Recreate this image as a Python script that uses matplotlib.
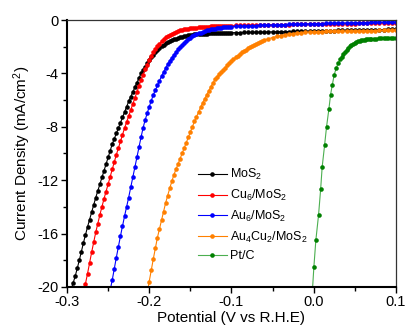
import numpy as np
import matplotlib
matplotlib.use("Agg")
import matplotlib.pyplot as plt
from matplotlib.ticker import MultipleLocator

plt.rcParams['font.family'] = ['Liberation Sans', 'DejaVu Sans']
plt.rcParams['mathtext.fontset'] = 'custom'
plt.rcParams['mathtext.rm'] = 'Liberation Sans'
plt.rcParams['mathtext.it'] = 'Liberation Sans:italic'
plt.rcParams['axes.unicode_minus'] = False

# (potential V vs RHE, current density mA/cm2)
mos2 = [(-0.295, -20.2), (-0.2925, -19.7), (-0.290, -19.2), (-0.2875, -18.6), (-0.285, -18.0),
        (-0.2825, -17.35), (-0.280, -16.7), (-0.2775, -16.1), (-0.275, -15.5), (-0.2725, -14.95),
        (-0.270, -14.4), (-0.2675, -13.85), (-0.265, -13.3), (-0.2625, -12.8), (-0.260, -12.3),
        (-0.2575, -11.8), (-0.255, -11.3), (-0.2525, -10.8), (-0.250, -10.3), (-0.2475, -9.8),
        (-0.245, -9.3), (-0.2425, -8.9), (-0.240, -8.5), (-0.2375, -8.1), (-0.235, -7.7),
        (-0.2325, -7.3), (-0.230, -6.9), (-0.2275, -6.5), (-0.225, -6.1), (-0.2225, -5.75),
        (-0.220, -5.4), (-0.2175, -5.05), (-0.215, -4.7), (-0.2125, -4.35), (-0.210, -4.0),
        (-0.2075, -3.75), (-0.205, -3.5), (-0.2025, -3.25), (-0.200, -3.0), (-0.1975, -2.8),
        (-0.195, -2.6), (-0.1925, -2.42), (-0.190, -2.25), (-0.1875, -2.1), (-0.185, -1.95),
        (-0.1825, -1.85), (-0.180, -1.75), (-0.1775, -1.66), (-0.175, -1.58), (-0.1725, -1.51),
        (-0.170, -1.45), (-0.1675, -1.4), (-0.165, -1.35), (-0.1625, -1.3), (-0.160, -1.26),
        (-0.1575, -1.22), (-0.155, -1.18), (-0.1525, -1.15), (-0.150, -1.12), (-0.1475, -1.1),
        (-0.145, -1.08), (-0.1425, -1.06), (-0.140, -1.05), (-0.1375, -1.04), (-0.135, -1.03),
        (-0.1325, -1.02), (-0.130, -1.01), (-0.1275, -1.0), (-0.125, -1.0), (-0.1225, -0.99),
        (-0.120, -0.99), (-0.1175, -0.98), (-0.115, -0.98), (-0.1125, -0.97), (-0.110, -0.97),
        (-0.1075, -0.96), (-0.105, -0.96), (-0.1025, -0.95), (-0.100, -0.95),
        (-0.095, -0.94), (-0.090, -0.94), (-0.085, -0.93), (-0.080, -0.93), (-0.075, -0.92),
        (-0.070, -0.91), (-0.065, -0.91), (-0.060, -0.90), (-0.055, -0.89), (-0.050, -0.89),
        (-0.045, -0.88), (-0.040, -0.87), (-0.035, -0.87), (-0.030, -0.86), (-0.025, -0.85),
        (-0.020, -0.85), (-0.015, -0.84), (-0.010, -0.83), (-0.005, -0.83), (0.000, -0.82),
        (0.005, -0.81), (0.010, -0.81), (0.015, -0.80), (0.020, -0.79), (0.025, -0.79),
        (0.030, -0.78), (0.035, -0.77), (0.040, -0.77), (0.045, -0.76), (0.050, -0.75),
        (0.055, -0.75), (0.060, -0.74), (0.065, -0.73), (0.070, -0.73), (0.075, -0.72),
        (0.080, -0.71), (0.085, -0.71), (0.090, -0.70), (0.095, -0.69), (0.100, -0.69)]

cu6 = [(-0.280, -20.5), (-0.2775, -19.75), (-0.275, -19.0), (-0.2725, -18.2), (-0.270, -17.4),
       (-0.2675, -16.65), (-0.265, -15.9), (-0.2625, -15.25), (-0.260, -14.6), (-0.2575, -14.0),
       (-0.255, -13.4), (-0.2525, -12.85), (-0.250, -12.3), (-0.2475, -11.75), (-0.245, -11.2),
       (-0.2425, -10.65), (-0.240, -10.1), (-0.2375, -9.6), (-0.235, -9.1), (-0.2325, -8.6),
       (-0.230, -8.1), (-0.2275, -7.65), (-0.225, -7.2), (-0.2225, -6.75), (-0.220, -6.3),
       (-0.2175, -5.85), (-0.215, -5.4), (-0.2125, -4.95), (-0.210, -4.5), (-0.2075, -4.1),
       (-0.205, -3.7), (-0.2025, -3.35), (-0.200, -3.0), (-0.1975, -2.7), (-0.195, -2.4),
       (-0.1925, -2.15), (-0.190, -1.95), (-0.1875, -1.77), (-0.185, -1.6), (-0.1825, -1.45),
       (-0.180, -1.3), (-0.1775, -1.2), (-0.175, -1.1), (-0.1725, -1.02), (-0.170, -0.95),
       (-0.1675, -0.89), (-0.165, -0.83), (-0.1625, -0.78), (-0.160, -0.74), (-0.1575, -0.7),
       (-0.155, -0.67), (-0.1525, -0.64), (-0.150, -0.62), (-0.1475, -0.6), (-0.145, -0.58),
       (-0.1425, -0.56), (-0.140, -0.55), (-0.1375, -0.53), (-0.135, -0.52), (-0.1325, -0.51),
       (-0.130, -0.50), (-0.1275, -0.49), (-0.125, -0.48), (-0.1225, -0.47), (-0.120, -0.46),
       (-0.1175, -0.45), (-0.115, -0.44), (-0.1125, -0.44), (-0.110, -0.43), (-0.1075, -0.43),
       (-0.105, -0.42), (-0.1025, -0.42), (-0.100, -0.41),
       (-0.095, -0.40), (-0.090, -0.40), (-0.085, -0.39), (-0.080, -0.39), (-0.075, -0.38),
       (-0.070, -0.38), (-0.065, -0.37), (-0.060, -0.37), (-0.055, -0.36), (-0.050, -0.36),
       (-0.045, -0.35), (-0.040, -0.35), (-0.035, -0.34), (-0.030, -0.34), (-0.025, -0.33),
       (-0.020, -0.33), (-0.015, -0.32), (-0.010, -0.32), (-0.005, -0.31), (0.000, -0.31),
       (0.005, -0.30), (0.010, -0.30), (0.015, -0.29), (0.020, -0.29), (0.025, -0.28),
       (0.030, -0.28), (0.035, -0.27), (0.040, -0.27), (0.045, -0.26), (0.050, -0.26),
       (0.055, -0.25), (0.060, -0.25), (0.065, -0.24), (0.070, -0.24), (0.075, -0.23),
       (0.080, -0.23), (0.085, -0.23), (0.090, -0.22), (0.095, -0.22), (0.100, -0.22)]

au6 = [(-0.250, -21.0), (-0.2475, -20.25), (-0.245, -19.5), (-0.2425, -18.65), (-0.240, -17.8),
       (-0.2375, -17.0), (-0.235, -16.2), (-0.2325, -15.45), (-0.230, -14.7), (-0.2275, -14.0),
       (-0.225, -13.3), (-0.2225, -12.55), (-0.220, -11.8), (-0.2175, -11.05), (-0.215, -10.3),
       (-0.2125, -9.55), (-0.210, -8.8), (-0.2075, -8.1), (-0.205, -7.5), (-0.2025, -7.0),
       (-0.200, -6.5), (-0.1975, -6.05), (-0.195, -5.6), (-0.1925, -5.25), (-0.190, -4.9),
       (-0.1875, -4.55), (-0.185, -4.2), (-0.1825, -3.9), (-0.180, -3.6), (-0.1775, -3.32),
       (-0.175, -3.05), (-0.1725, -2.82), (-0.170, -2.6), (-0.1675, -2.4), (-0.165, -2.2),
       (-0.1625, -2.02), (-0.160, -1.85), (-0.1575, -1.7), (-0.155, -1.55), (-0.1525, -1.43),
       (-0.150, -1.32), (-0.1475, -1.23), (-0.145, -1.15), (-0.1425, -1.07), (-0.140, -1.0),
       (-0.1375, -0.94), (-0.135, -0.88), (-0.1325, -0.83), (-0.130, -0.78), (-0.1275, -0.74),
       (-0.125, -0.70), (-0.1225, -0.67), (-0.120, -0.64), (-0.1175, -0.61), (-0.115, -0.59),
       (-0.1125, -0.57), (-0.110, -0.55), (-0.1075, -0.53), (-0.105, -0.52), (-0.1025, -0.5),
       (-0.100, -0.49),
       (-0.095, -0.47), (-0.090, -0.46), (-0.085, -0.44), (-0.080, -0.43), (-0.075, -0.42),
       (-0.070, -0.41), (-0.065, -0.40), (-0.060, -0.39), (-0.055, -0.38), (-0.050, -0.37),
       (-0.045, -0.36), (-0.040, -0.35), (-0.035, -0.34), (-0.030, -0.33), (-0.025, -0.32),
       (-0.020, -0.31), (-0.015, -0.30), (-0.010, -0.29), (-0.005, -0.28), (0.000, -0.27),
       (0.005, -0.27), (0.010, -0.26), (0.015, -0.25), (0.020, -0.24), (0.025, -0.24),
       (0.030, -0.23), (0.035, -0.22), (0.040, -0.22), (0.045, -0.21), (0.050, -0.20),
       (0.055, -0.20), (0.060, -0.19), (0.065, -0.19), (0.070, -0.18), (0.075, -0.18),
       (0.080, -0.17), (0.085, -0.17), (0.090, -0.16), (0.095, -0.16), (0.100, -0.15)]

au4cu2 = [(-0.205, -21.3), (-0.2025, -20.45), (-0.200, -19.6), (-0.1975, -18.75), (-0.195, -17.9),
          (-0.1925, -17.1), (-0.190, -16.3), (-0.1875, -15.65), (-0.185, -15.0), (-0.1825, -14.35),
          (-0.180, -13.7), (-0.1775, -13.15), (-0.175, -12.6), (-0.1725, -12.1), (-0.170, -11.6),
          (-0.1675, -11.2), (-0.165, -10.8), (-0.1625, -10.4), (-0.160, -10.0), (-0.1575, -9.6),
          (-0.155, -9.2), (-0.1525, -8.8), (-0.150, -8.4), (-0.1475, -8.0), (-0.145, -7.6),
          (-0.1425, -7.25), (-0.140, -6.9), (-0.1375, -6.55), (-0.135, -6.2), (-0.1325, -5.9),
          (-0.130, -5.6), (-0.1275, -5.3), (-0.125, -5.0), (-0.1225, -4.72), (-0.120, -4.45),
          (-0.1175, -4.25), (-0.115, -4.05), (-0.1125, -3.9), (-0.110, -3.75), (-0.1075, -3.57),
          (-0.105, -3.4), (-0.1025, -3.25), (-0.100, -3.1),
          (-0.0975, -2.95), (-0.095, -2.8), (-0.0925, -2.67), (-0.090, -2.55), (-0.0875, -2.43),
          (-0.085, -2.32), (-0.0825, -2.22), (-0.080, -2.12), (-0.0775, -2.03), (-0.075, -1.95),
          (-0.0725, -1.86), (-0.070, -1.78), (-0.0675, -1.7), (-0.065, -1.62), (-0.0625, -1.56),
          (-0.060, -1.50), (-0.055, -1.40), (-0.050, -1.31), (-0.045, -1.23), (-0.040, -1.16),
          (-0.035, -1.10), (-0.030, -1.05), (-0.025, -1.01), (-0.020, -0.97), (-0.015, -0.94),
          (-0.010, -0.92), (-0.005, -0.90), (0.000, -0.88), (0.005, -0.87), (0.010, -0.86),
          (0.015, -0.85), (0.020, -0.85), (0.025, -0.84), (0.030, -0.83), (0.035, -0.83),
          (0.040, -0.82), (0.045, -0.82), (0.050, -0.81), (0.055, -0.81), (0.060, -0.80),
          (0.065, -0.80), (0.070, -0.79), (0.075, -0.79), (0.080, -0.78), (0.085, -0.78),
          (0.090, -0.77), (0.095, -0.77), (0.100, -0.76)]

ptc = [(-0.0018, -20.6), (0.0003, -18.5), (0.0027, -16.5), (0.006, -14.6), (0.0085, -12.7),
       (0.0104, -11.0), (0.0133, -9.4), (0.0157, -8.0), (0.0185, -6.7), (0.0206, -5.6),
       (0.0226, -4.9), (0.025, -4.1), (0.0275, -3.6), (0.030, -3.2), (0.0325, -2.95),
       (0.034, -2.75), (0.036, -2.55), (0.038, -2.38), (0.040, -2.22), (0.042, -2.1),
       (0.044, -1.98), (0.046, -1.88), (0.048, -1.79), (0.050, -1.72), (0.052, -1.66),
       (0.054, -1.6), (0.056, -1.55), (0.058, -1.51), (0.060, -1.48), (0.062, -1.46),
       (0.064, -1.44), (0.066, -1.43), (0.068, -1.42), (0.070, -1.41), (0.073, -1.40),
       (0.076, -1.39), (0.079, -1.38), (0.082, -1.38), (0.085, -1.37), (0.088, -1.37),
       (0.091, -1.36), (0.094, -1.36), (0.097, -1.35), (0.100, -1.35)]

labels = ['MoS$_2$', 'Cu$_6$/MoS$_2$', 'Au$_6$/MoS$_2$', 'Au$_4$Cu$_2$/MoS$_2$', 'Pt/C']
colors = ['#000000', '#ff0000', '#0000ff', '#ff8000', '#008000']
line_colors = ['#000000', '#ff0000', '#0000ff', '#ff8000', '#4caf50']

fig = plt.figure(figsize=(4.06, 3.29), dpi=100)
ax = fig.add_axes([0.165, 0.128, 0.81, 0.811])

for data, lab, c, lc in zip([mos2, cu6, au6, au4cu2, ptc], labels, colors, line_colors):
    v, j = zip(*data)
    ax.plot(v, j, '-o', color=lc, mfc=c, mec=c, lw=0.8, ms=3.3, mew=0, label=lab)

ax.set_xlim(-0.3, 0.1)
ax.set_ylim(-20, 0)
ax.set_xticks([-0.3, -0.2, -0.1, 0.0, 0.1])
ax.set_xticklabels(['-0.3', '-0.2', '-0.1', '0.0', '0.1'])
ax.set_yticks([0, -4, -8, -12, -16, -20])
ax.set_yticklabels(['0', '-4', '-8', '-12', '-16', '-20'])
ax.xaxis.set_minor_locator(MultipleLocator(0.05))
ax.yaxis.set_minor_locator(MultipleLocator(2))
ax.tick_params(which='both', direction='out', labelsize=10.5, width=1, pad=2)
ax.tick_params(which='major', length=4)
ax.tick_params(which='minor', length=3)

for s in ['left', 'bottom']:
    ax.spines[s].set_linewidth(1.5)
for s in ['top', 'right']:
    ax.spines[s].set_linewidth(0.9)
    ax.spines[s].set_color('#333333')

ax.set_xlabel('Potential (V vs R.H.E)', fontsize=11, labelpad=1)
ax.set_ylabel('Current Density (mA/cm$^2$)', fontsize=11, labelpad=3)

ax.legend(loc='center left', bbox_to_anchor=(0.398, 0.27), frameon=False,
          fontsize=9, numpoints=1, handlelength=2.3, handletextpad=0.3,
          labelspacing=0.45, borderpad=0, borderaxespad=0)

fig.savefig('out.png', dpi=100)
